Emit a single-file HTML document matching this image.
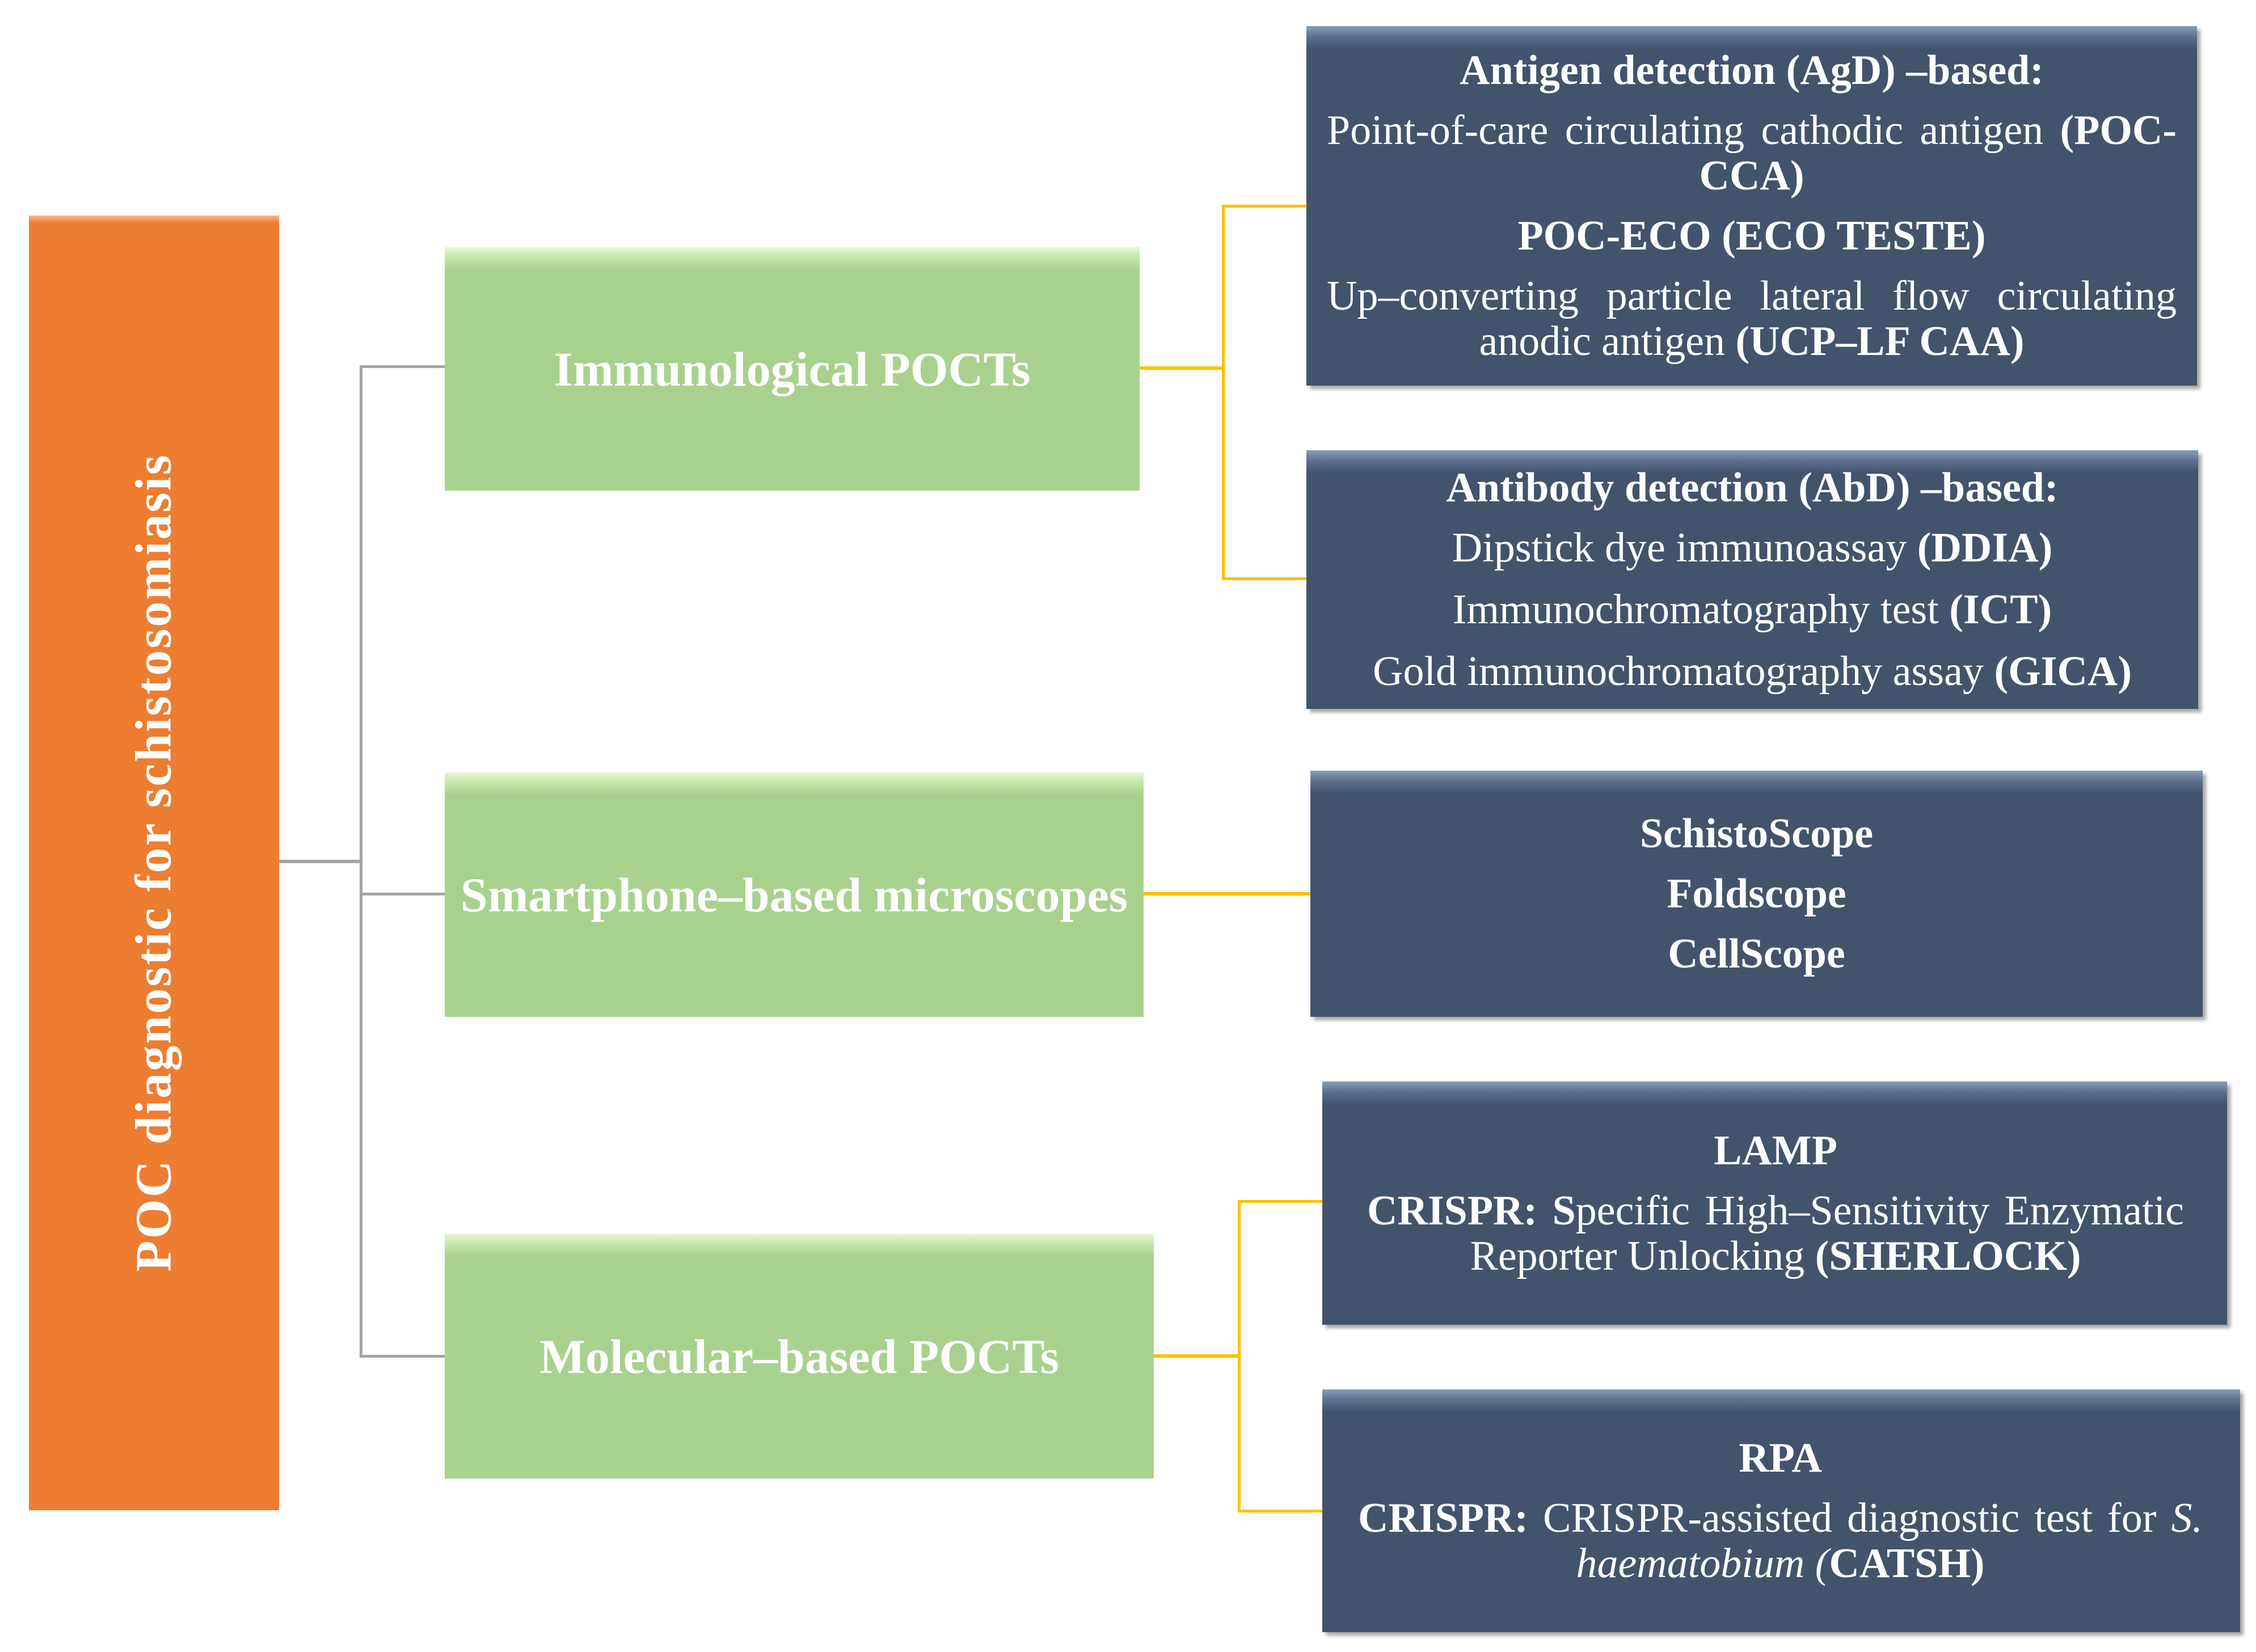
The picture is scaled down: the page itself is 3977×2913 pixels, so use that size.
<!DOCTYPE html>
<html><head><meta charset="utf-8"><style>
body{margin:0;width:3977px;height:2913px;background:#fff;position:relative;overflow:hidden;font-family:"Liberation Serif","Times New Roman",serif;}
.b{position:absolute;box-sizing:border-box;display:flex;flex-direction:column;justify-content:center;color:#fff;}
.o{background:linear-gradient(#f9b98a 0,#ed7d31 14px,#ed7d31 100%);}
.g{background:linear-gradient(#e6f7d4 0,#c9eab0 14px,#a9d18e 40px,#a9d18e 100%);font-weight:bold;font-size:86px;text-align:center;white-space:nowrap;}
.d{background:linear-gradient(#8a9bb5 0,#5f7190 18px,#43536b 40px,#43536b 100%);font-size:74px;padding:0 36px;line-height:80px;box-shadow:6px 6px 6px rgba(0,0,0,.35);}
.d p{margin:0 0 26px 0;text-align:justify;text-align-last:center;}
.d p:last-child{margin-bottom:0}
.l{position:absolute;}
.gy{background:#a5a5a5}.yl{background:#ffc000}
</style></head><body>
<div class="b o" style="left:51px;top:380px;width:441px;height:2283px;"></div>
<div style="position:absolute;left:271px;top:1521px;transform:translate(-50%,-50%) rotate(-90deg);white-space:nowrap;color:#fff;font-weight:bold;font-size:90px;letter-spacing:3px;">POC diagnostic for schistosomiasis</div>

<div class="l gy" style="left:492px;top:1516px;width:145px;height:6px"></div>
<div class="l gy" style="left:634px;top:646px;width:5px;height:1748px"></div>
<div class="l gy" style="left:634px;top:644px;width:150px;height:5px"></div>
<div class="l gy" style="left:634px;top:1574px;width:150px;height:5px"></div>
<div class="l gy" style="left:634px;top:2389px;width:150px;height:5px"></div>

<div class="b g" style="left:784px;top:436px;width:1225px;height:429px;">Immunological POCTs</div>
<div class="b g" style="left:784px;top:1362px;width:1232px;height:431px;">Smartphone‒based microscopes</div>
<div class="b g" style="left:784px;top:2176px;width:1250px;height:431px;">Molecular‒based POCTs</div>

<div class="l yl" style="left:2009px;top:646px;width:149px;height:6px"></div>
<div class="l yl" style="left:2154px;top:362px;width:5px;height:661px"></div>
<div class="l yl" style="left:2154px;top:361px;width:149px;height:5px"></div>
<div class="l yl" style="left:2154px;top:1018px;width:149px;height:5px"></div>
<div class="l yl" style="left:2016px;top:1573px;width:294px;height:6px"></div>
<div class="l yl" style="left:2034px;top:2388px;width:152px;height:6px"></div>
<div class="l yl" style="left:2182px;top:2117px;width:5px;height:550px"></div>
<div class="l yl" style="left:2182px;top:2116px;width:149px;height:5px"></div>
<div class="l yl" style="left:2182px;top:2662px;width:149px;height:5px"></div>

<div class="b d" style="left:2303px;top:46px;width:1570px;height:634px;">
<p><b>Antigen detection (AgD) ‒based:</b></p>
<p>Point-of-care circulating cathodic antigen <b>(POC-CCA)</b></p>
<p><b>POC-ECO (ECO TESTE)</b></p>
<p>Up‒converting particle lateral flow circulating anodic antigen <b>(UCP‒LF CAA)</b></p>
</div>
<div class="b d" style="left:2303px;top:794px;width:1572px;height:456px;">
<p><b>Antibody detection (AbD) ‒based:</b></p>
<p style="margin-bottom:29px">Dipstick dye immunoassay <b>(DDIA)</b></p>
<p style="margin-bottom:29px">Immunochromatography test <b>(ICT)</b></p>
<p>Gold immunochromatography assay <b>(GICA)</b></p>
</div>
<div class="b d" style="left:2310px;top:1359px;width:1573px;height:434px;font-weight:bold;">
<p>SchistoScope</p><p>Foldscope</p><p>CellScope</p>
</div>
<div class="b d" style="left:2331px;top:1907px;width:1595px;height:429px;padding:0 76px 0 79px;">
<p><b>LAMP</b></p>
<p><b>CRISPR: S</b>pecific High‒Sensitivity Enzymatic Reporter Unlocking <b>(SHERLOCK)</b></p>
</div>
<div class="b d" style="left:2331px;top:2450px;width:1618px;height:428px;padding:0 66px 0 63px;">
<p><b>RPA</b></p>
<p><b>CRISPR:</b> CRISPR-assisted diagnostic test for <i>S. haematobium (</i><b>CATSH)</b></p>
</div>
</body></html>
